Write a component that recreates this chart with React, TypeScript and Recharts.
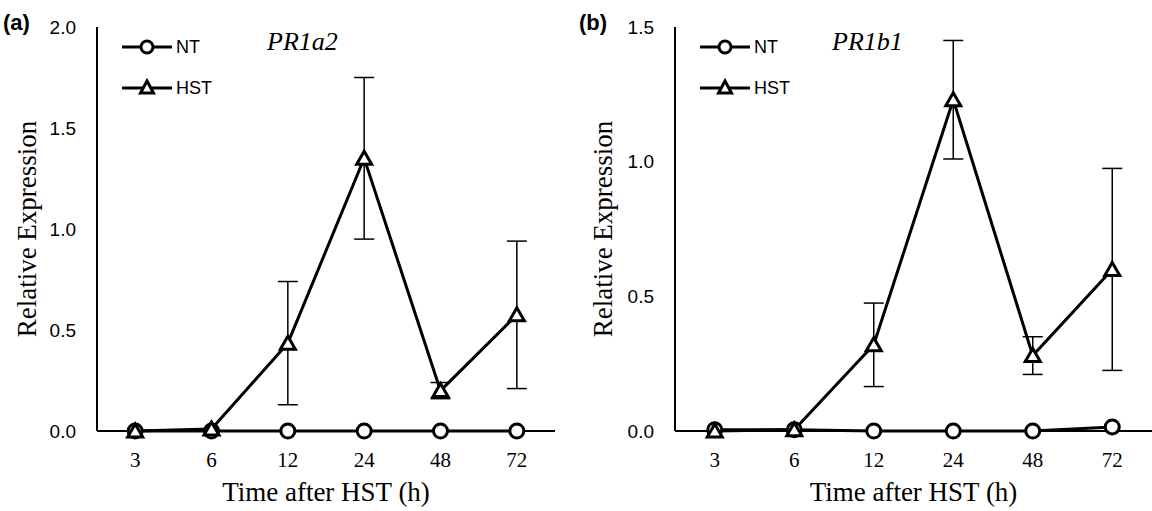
import React from "react";
import { LineChart, Line, XAxis, YAxis, ErrorBar, Legend } from "recharts";

// time points (h)
const times = ["3", "6", "12", "24", "48", "72"];

// (a) PR1a2
const ntA = [0, 0, 0, 0, 0, 0];
const hstA = [0, 0.01, 0.435, 1.35, 0.2, 0.575];
const hstErrA = [0, 0, 0.305, 0.4, 0.04, 0.365];
const ticksA = [0, 0.5, 1, 1.5, 2];

// (b) PR1b1
const ntB = [0.005, 0.005, 0, 0, 0, 0.015];
const hstB = [0, 0.005, 0.32, 1.23, 0.28, 0.6];
const hstErrB = [0, 0, 0.155, 0.22, 0.07, 0.375];
const ticksB = [0, 0.5, 1, 1.5];

const serif = "'Liberation Serif', 'Times New Roman', serif";
const sans = "'Liberation Sans', Arial, sans-serif";

const makeRows = (nt: number[], hst: number[], err: number[]) =>
  times.map((t, i) => ({ time: t, NT: nt[i], HST: hst[i], err: err[i] }));

const CircleDot = (props: any) => {
  const { cx, cy, index } = props;
  if (cx == null || cy == null) return null;
  return <circle key={`c-${index}`} cx={cx} cy={cy} r={7} fill="#fff" stroke="#000" strokeWidth={3} />;
};

const TriangleDot = (props: any) => {
  const { cx, cy, index } = props;
  if (cx == null || cy == null) return null;
  const pts = `${cx},${cy - 7} ${cx - 7.5},${cy + 6} ${cx + 7.5},${cy + 6}`;
  return <polygon key={`t-${index}`} points={pts} fill="#fff" stroke="#000" strokeWidth={3} strokeLinejoin="miter" />;
};

const LegendBox = () => (
  <svg width={100} height={70} style={{ overflow: "visible" }}>
    <line x1={0} y1={12} x2={50} y2={12} stroke="#000" strokeWidth={3} />
    <circle cx={25} cy={12} r={6} fill="#fff" stroke="#000" strokeWidth={3} />
    <text x={54} y={18} fontFamily={sans} fontSize={18} fill="#000">NT</text>
    <line x1={0} y1={53} x2={50} y2={53} stroke="#000" strokeWidth={3} />
    <polygon points="25,46 18.5,58 31.5,58" fill="#fff" stroke="#000" strokeWidth={3} />
    <text x={54} y={59} fontFamily={sans} fontSize={18} fill="#000">HST</text>
  </svg>
);

type PanelProps = {
  left: number;
  tag: string;
  gene: string;
  nt: number[];
  hst: number[];
  err: number[];
  ticks: number[];
  yWidth: number;
  rightMargin: number;
  geneLeft: number;
};

function Panel({ left, tag, gene, nt, hst, err, ticks, yWidth, rightMargin, geneLeft }: PanelProps) {
  const rows = makeRows(nt, hst, err);
  return (
    <div style={{ position: "absolute", left, top: 0, width: 576, height: 511 }}>
      <LineChart width={576} height={511} data={rows} margin={{ top: 27, right: rightMargin, bottom: 0, left: 0 }}>
        <XAxis
          dataKey="time"
          scale="band"
          height={80}
          tickLine={false}
          axisLine={{ stroke: "#000", strokeWidth: 2 }}
          tickMargin={15}
          tick={{ fontFamily: serif, fontSize: 21, fill: "#000" }}
          label={{ value: "Time after HST (h)", position: "insideBottom", offset: 10, style: { fontFamily: serif, fontSize: 27, fill: "#000" } }}
        />
        <YAxis
          width={yWidth}
          domain={[ticks[0], ticks[ticks.length - 1]]}
          ticks={ticks}
          tickLine={false}
          axisLine={{ stroke: "#000", strokeWidth: 2 }}
          tickMargin={15}
          tickFormatter={(v: number) => v.toFixed(1)}
          tick={{ fontFamily: sans, fontSize: 19, fill: "#000" }}
          label={{ value: "Relative Expression", angle: -90, position: "insideLeft", offset: 26, style: { textAnchor: "middle", fontFamily: serif, fontSize: 27, fill: "#000" } }}
        />
        <Legend
          layout="vertical"
          align="center"
          verticalAlign="middle"
          content={() => <LegendBox />}
          wrapperStyle={{ left: yWidth + 25, top: 35, width: 100, height: 70 }}
        />
        <Line
          dataKey="NT"
          stroke="#000"
          strokeWidth={3}
          dot={CircleDot}
          activeDot={false}
          isAnimationActive={false}
        />
        <Line
          dataKey="HST"
          stroke="#000"
          strokeWidth={3}
          dot={TriangleDot}
          activeDot={false}
          isAnimationActive={false}
        >
          <ErrorBar dataKey="err" direction="y" width={10} stroke="#000" strokeWidth={1.5} isAnimationActive={false} />
        </Line>
      </LineChart>
      <div style={{ position: "absolute", left: 3, top: 10, fontFamily: sans, fontWeight: "bold", fontSize: 22, color: "#000" }}>
        {tag}
      </div>
      <div style={{ position: "absolute", left: geneLeft, top: 27, fontFamily: serif, fontStyle: "italic", fontSize: 26, color: "#000" }}>
        {gene}
      </div>
    </div>
  );
}

export default function App() {
  return (
    <div style={{ position: "absolute", left: 0, top: 0, width: 1152, height: 511, background: "#fff" }}>
      <Panel left={0} tag="(a)" gene="PR1a2" nt={ntA} hst={hstA} err={hstErrA} ticks={ticksA} yWidth={97} rightMargin={21} geneLeft={267} />
      <Panel left={576} tag="(b)" gene="PR1b1" nt={ntB} hst={hstB} err={hstErrB} ticks={ticksB} yWidth={99} rightMargin={0} geneLeft={256} />
    </div>
  );
}
